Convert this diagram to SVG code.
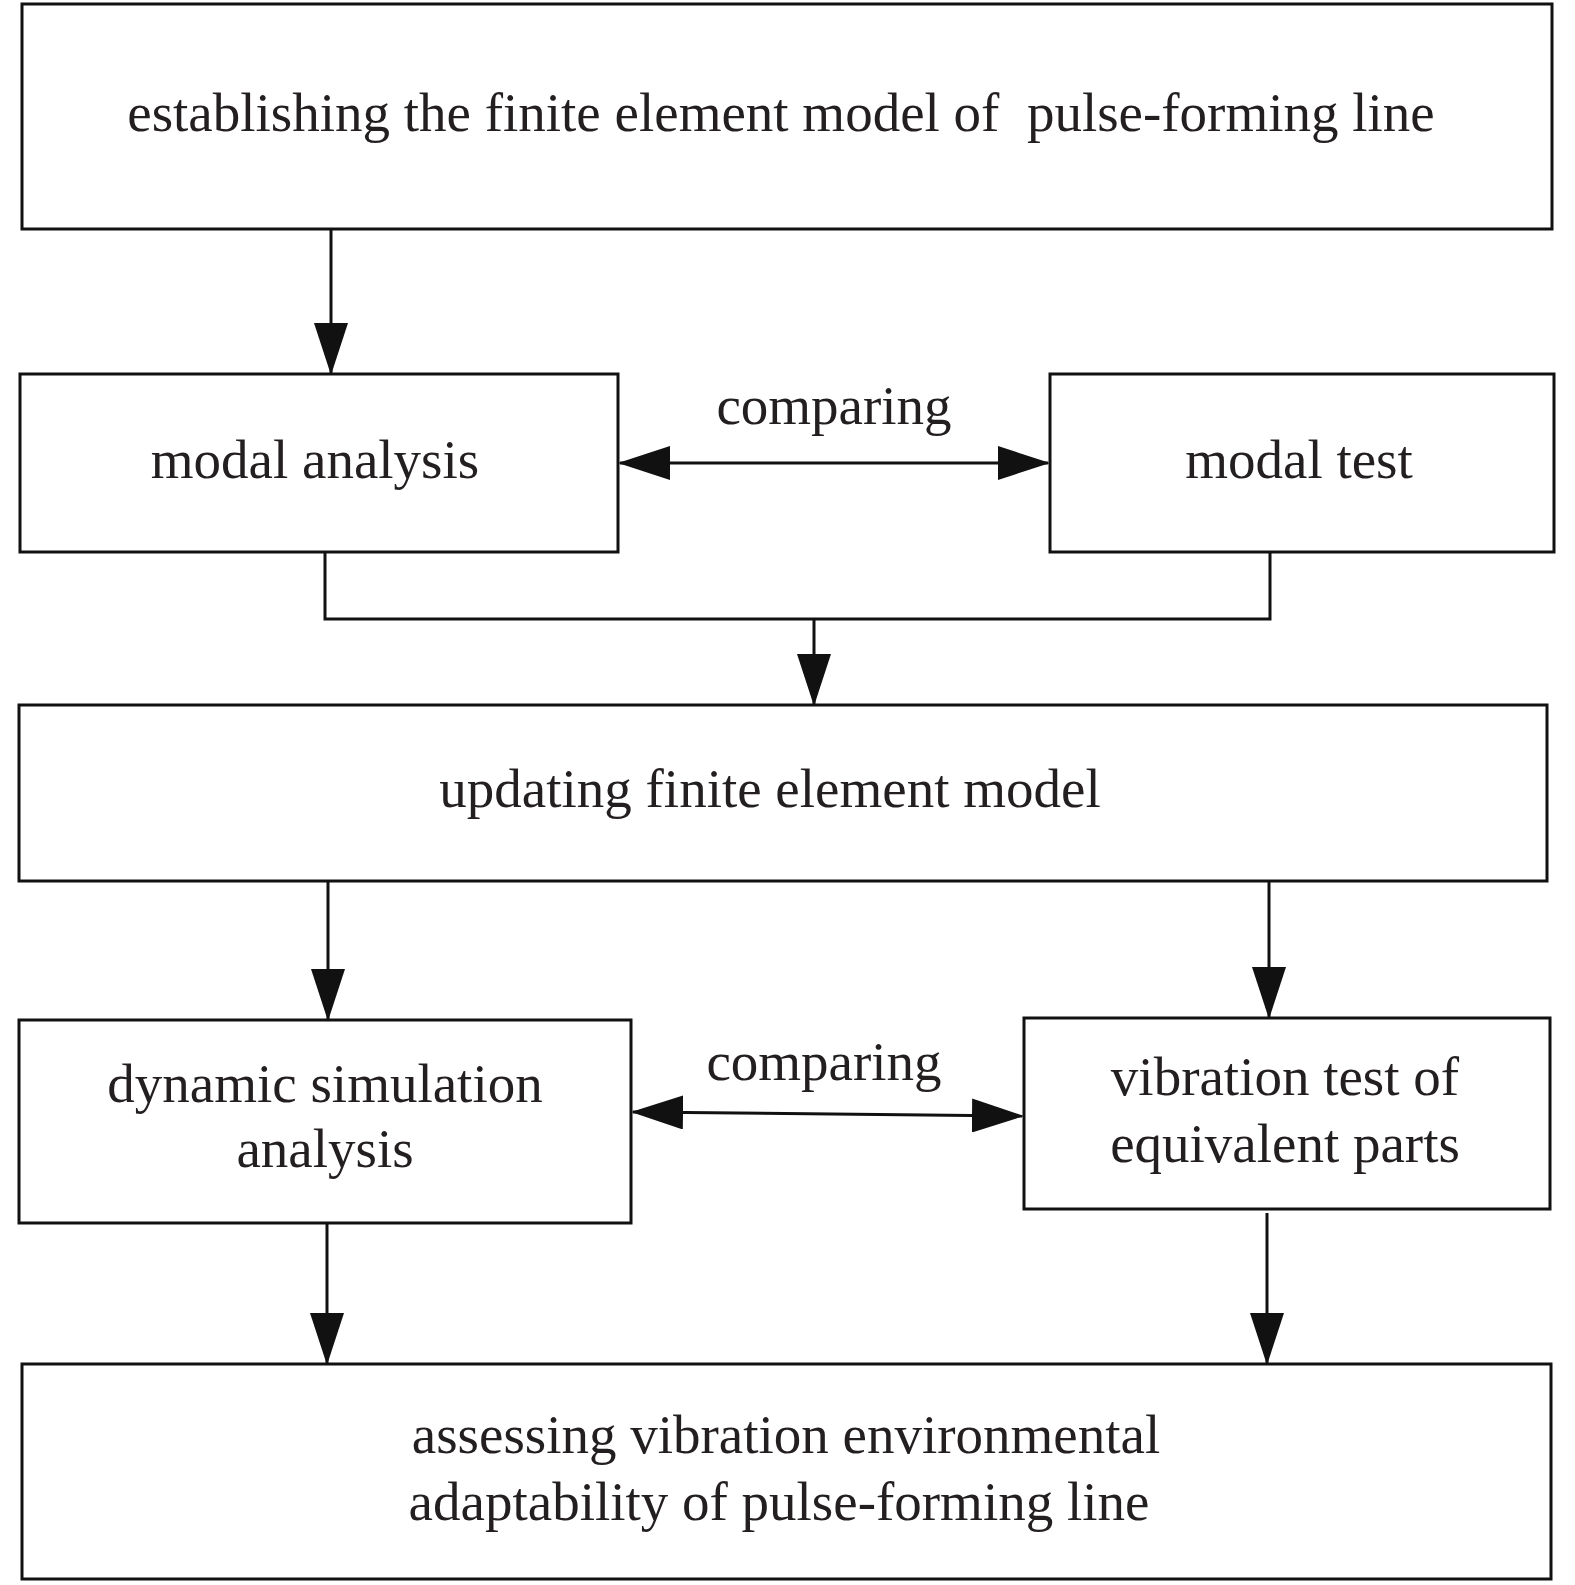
<svg xmlns="http://www.w3.org/2000/svg" width="1575" height="1585" viewBox="0 0 1575 1585">
<style>
.box{fill:#fff;stroke:#111;stroke-width:3;stroke-linejoin:miter}
.t{font-family:"Liberation Serif","Times New Roman",serif;font-size:55px;fill:#231f20;text-anchor:middle}
.pre{white-space:pre}
.c{fill:none;stroke:#111;stroke-width:3}
</style>
<defs>
<marker id="ah" markerUnits="userSpaceOnUse" markerWidth="52" markerHeight="34" refX="50" refY="17" orient="auto-start-reverse" viewBox="0 0 52 34">
<path d="M0,0 L52,17 L0,34 z" fill="#111"/>
</marker>
</defs>
<rect width="1575" height="1585" fill="#fff"/>
<g id="n1"><rect class="box" x="22" y="4" width="1530" height="225"/><text class="t pre" xml:space="preserve" x="781" y="131">establishing the finite element model of  pulse-forming line</text></g>
<g id="n2"><rect class="box" x="20" y="374" width="598" height="178"/><text class="t" x="315" y="478">modal analysis</text></g>
<g id="n3"><rect class="box" x="1050" y="374" width="504" height="178"/><text class="t" x="1299" y="478">modal test</text></g>
<g id="n4"><rect class="box" x="19" y="705" width="1528" height="176"/><text class="t" x="770" y="807">updating finite element model</text></g>
<g id="n5"><rect class="box" x="19" y="1020" width="612" height="203"/><text class="t" x="325" y="1102">dynamic simulation</text><text class="t" x="325" y="1167">analysis</text></g>
<g id="n6"><rect class="box" x="1024" y="1018" width="526" height="191"/><text class="t" x="1285" y="1095">vibration test of</text><text class="t" x="1285" y="1162">equivalent parts</text></g>
<g id="n7"><rect class="box" x="22" y="1364" width="1529" height="215"/><text class="t" x="786" y="1453">assessing vibration environmental</text><text class="t" x="779" y="1520">adaptability of pulse-forming line</text></g>
<g id="connectors">
<line class="c" x1="331" y1="229" x2="331" y2="373" marker-end="url(#ah)"/>
<line class="c" x1="620" y1="463" x2="1048" y2="463" marker-start="url(#ah)" marker-end="url(#ah)"/>
<text class="t" x="834" y="424">comparing</text>
<polyline class="c" points="325,552 325,619 1270,619 1270,552"/>
<line class="c" x1="814" y1="619" x2="814" y2="704" marker-end="url(#ah)"/>
<line class="c" x1="328" y1="881" x2="328" y2="1019" marker-end="url(#ah)"/>
<line class="c" x1="1269" y1="881" x2="1269" y2="1017" marker-end="url(#ah)"/>
<line class="c" x1="633" y1="1112" x2="1022" y2="1116" marker-start="url(#ah)" marker-end="url(#ah)"/>
<text class="t" x="824" y="1080">comparing</text>
<line class="c" x1="327" y1="1223" x2="327" y2="1363" marker-end="url(#ah)"/>
<line class="c" x1="1267" y1="1213" x2="1267" y2="1363" marker-end="url(#ah)"/>
</g>
</svg>
